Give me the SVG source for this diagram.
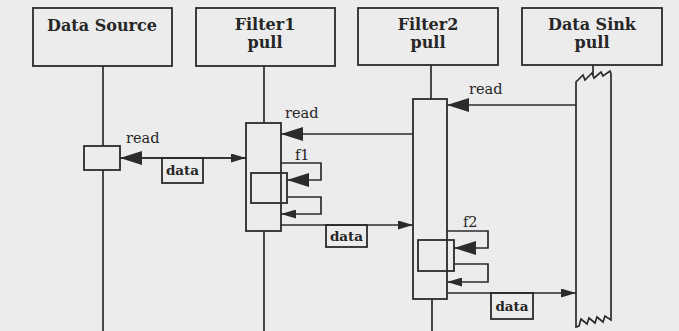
<svg xmlns="http://www.w3.org/2000/svg" width="679" height="331" viewBox="0 0 679 331">
<style>
.bx{fill:none;stroke:#2b2b2b;stroke-width:1.8}
.ln{fill:none;stroke:#2b2b2b;stroke-width:1.7}
.hd{font-family:"DejaVu Serif",serif;font-weight:bold;font-size:16px;fill:#262626;text-anchor:middle}
.lb{font-family:"DejaVu Serif",serif;font-size:14.5px;fill:#262626}
.dt{font-family:"DejaVu Serif",serif;font-weight:bold;font-size:13.5px;fill:#262626;text-anchor:middle}
</style>
<defs>
<marker id="big" markerWidth="22" markerHeight="14" refX="22" refY="7" orient="auto" markerUnits="userSpaceOnUse"><path d="M0,0 L22,7 L0,14 z" fill="#2b2b2b"/></marker>
<marker id="small" markerWidth="15" markerHeight="9" refX="15" refY="4.5" orient="auto" markerUnits="userSpaceOnUse"><path d="M0,0 L15,4.5 L0,9 z" fill="#2b2b2b"/></marker>
</defs>
<rect width="679" height="331" fill="#ececec"/>

<g id="source">
<rect class="bx" x="33" y="8" width="139" height="58"/>
<text class="hd" x="102" y="31">Data Source</text>
<line class="ln" x1="103" y1="66" x2="103" y2="146"/>
<rect class="bx" x="84" y="146" width="36" height="24"/>
<line class="ln" x1="103" y1="170" x2="103" y2="331"/>
</g>

<g id="filter1">
<rect class="bx" x="196" y="8" width="139" height="58"/>
<text class="hd" x="265" y="30">Filter1</text>
<text class="hd" x="265" y="48">pull</text>
<line class="ln" x1="264" y1="66" x2="264" y2="123"/>
<rect class="bx" x="246" y="123" width="35" height="108"/>
<rect class="bx" x="251" y="173" width="36" height="30"/>
<line class="ln" x1="264" y1="231" x2="264" y2="331"/>
</g>

<g id="filter2">
<rect class="bx" x="358" y="8" width="140" height="57"/>
<text class="hd" x="428" y="30">Filter2</text>
<text class="hd" x="428" y="48">pull</text>
<line class="ln" x1="431" y1="65" x2="431" y2="99"/>
<rect class="bx" x="413" y="99" width="34" height="200"/>
<rect class="bx" x="418" y="240" width="36" height="31"/>
<line class="ln" x1="432" y1="299" x2="432" y2="331"/>
</g>

<g id="sink">
<rect class="bx" x="522" y="8" width="140" height="57"/>
<text class="hd" x="592" y="30">Data Sink</text>
<text class="hd" x="592" y="48">pull</text>
<line class="ln" x1="593" y1="65" x2="593" y2="75"/>
<path class="ln" d="M576,327 V82 L583,75 L585,80 L592,73 L594,78 L601,72 L603,76 L610,71 L611,74 V320 L605,316 L603,322 L597,317 L595,323 L589,318 L587,324 L581,319 L579,326 Z" stroke-linejoin="miter"/>
</g>

<g id="connectors">
<path class="ln" d="M246,158 H120" marker-end="url(#big)"/>
<path class="ln" d="M120,158 H246" marker-end="url(#small)"/>
<path class="ln" d="M413,134 H281" marker-end="url(#big)"/>
<path class="ln" d="M281,163 H321 V180 H287" marker-end="url(#big)"/>
<path class="ln" d="M287,197 H321 V214 H281" marker-end="url(#small)"/>
<path class="ln" d="M281,225 H413" marker-end="url(#small)"/>
<path class="ln" d="M576,105 H447" marker-end="url(#big)"/>
<path class="ln" d="M447,231 H488 V248 H454" marker-end="url(#big)"/>
<path class="ln" d="M454,264 H488 V282 H447" marker-end="url(#small)"/>
<path class="ln" d="M447,293 H576" marker-end="url(#small)"/>
</g>

<g id="labels">
<text class="lb" x="126" y="143">read</text>
<text class="lb" x="285" y="118">read</text>
<text class="lb" x="469" y="94">read</text>
<text class="lb" x="295" y="160">f1</text>
<text class="lb" x="463" y="227">f2</text>
</g>

<g id="data1"><rect class="bx" x="162" y="158" width="41" height="25"/><text class="dt" x="182.5" y="175">data</text></g>
<g id="data2"><rect class="bx" x="326" y="225" width="41" height="22"/><text class="dt" x="346.5" y="241">data</text></g>
<g id="data3"><rect class="bx" x="491" y="293" width="42" height="26"/><text class="dt" x="512" y="311">data</text></g>
</svg>
